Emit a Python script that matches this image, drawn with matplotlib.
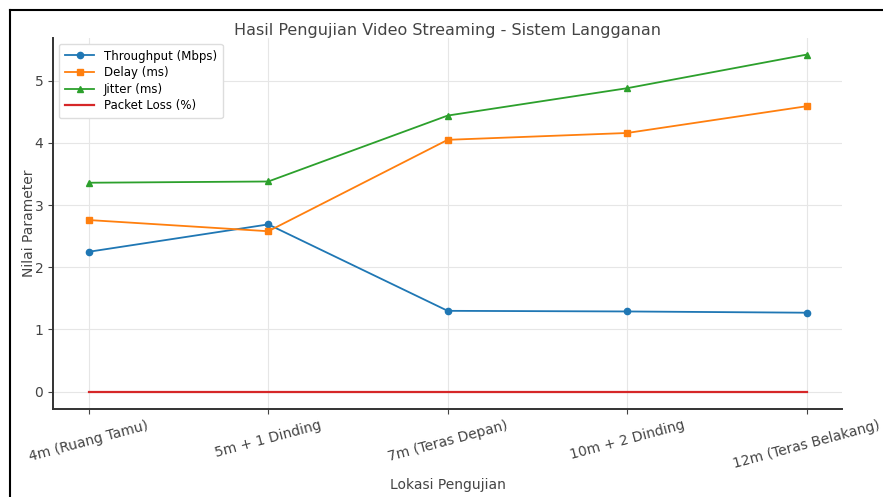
import matplotlib
matplotlib.use('Agg')
import matplotlib.pyplot as plt
from matplotlib.lines import Line2D

lokasi = ['4m (Ruang Tamu)', '5m + 1 Dinding', '7m (Teras Depan)',
          '10m + 2 Dinding', '12m (Teras Belakang)']
throughput = [2.25, 2.69, 1.30, 1.29, 1.27]
delay = [2.76, 2.58, 4.05, 4.16, 4.59]
jitter = [3.36, 3.38, 4.44, 4.88, 5.42]
packet_loss = [0, 0, 0, 0, 0]

fig = plt.figure(figsize=(8.83, 4.97), dpi=100)
ax = fig.add_axes([0.060, 0.178, 0.894, 0.746])

ax.plot(lokasi, throughput, marker='o', markersize=4.5, linewidth=1.3,
        color='#1f77b4', label='Throughput (Mbps)')
ax.plot(lokasi, delay, marker='s', markersize=4.5, linewidth=1.3,
        color='#ff7f0e', label='Delay (ms)')
ax.plot(lokasi, jitter, marker='^', markersize=4.5, linewidth=1.3,
        color='#2ca02c', label='Jitter (ms)')
ax.plot(lokasi, packet_loss, linewidth=1.6, color='#d62728', label='Packet Loss (%)')

ax.set_title('Hasil Pengujian Video Streaming - Sistem Langganan', fontsize=11.5,
             color='#444444', pad=2)
ax.set_xlabel('Lokasi Pengujian', fontsize=10, color='#444444', labelpad=5)
ax.set_ylabel('Nilai Parameter', fontsize=10, color='#444444', labelpad=-1)
ax.tick_params(axis='both', labelsize=10, colors='#444444')
plt.setp(ax.get_xticklabels(), rotation=15)

ax.grid(True, color='#e6e6e6', linewidth=0.8)
ax.spines['top'].set_visible(False)
ax.spines['right'].set_visible(False)
ax.spines['left'].set_color('#333333')
ax.spines['bottom'].set_color('#333333')
ax.spines['left'].set_linewidth(1.4)
ax.spines['bottom'].set_linewidth(1.4)

ax.legend(loc='upper left', fontsize=8.5, frameon=True, framealpha=1,
          edgecolor='#dddddd', handlelength=2.5, borderpad=0.5, labelspacing=0.3)

# frame from the screenshot
fig.add_artist(Line2D([0.011, 1.0], [0.980, 0.980], color='black', linewidth=1.5))
fig.add_artist(Line2D([0.011, 0.011], [0.0, 0.980], color='black', linewidth=1.5))

plt.savefig('out.png', dpi=100)
